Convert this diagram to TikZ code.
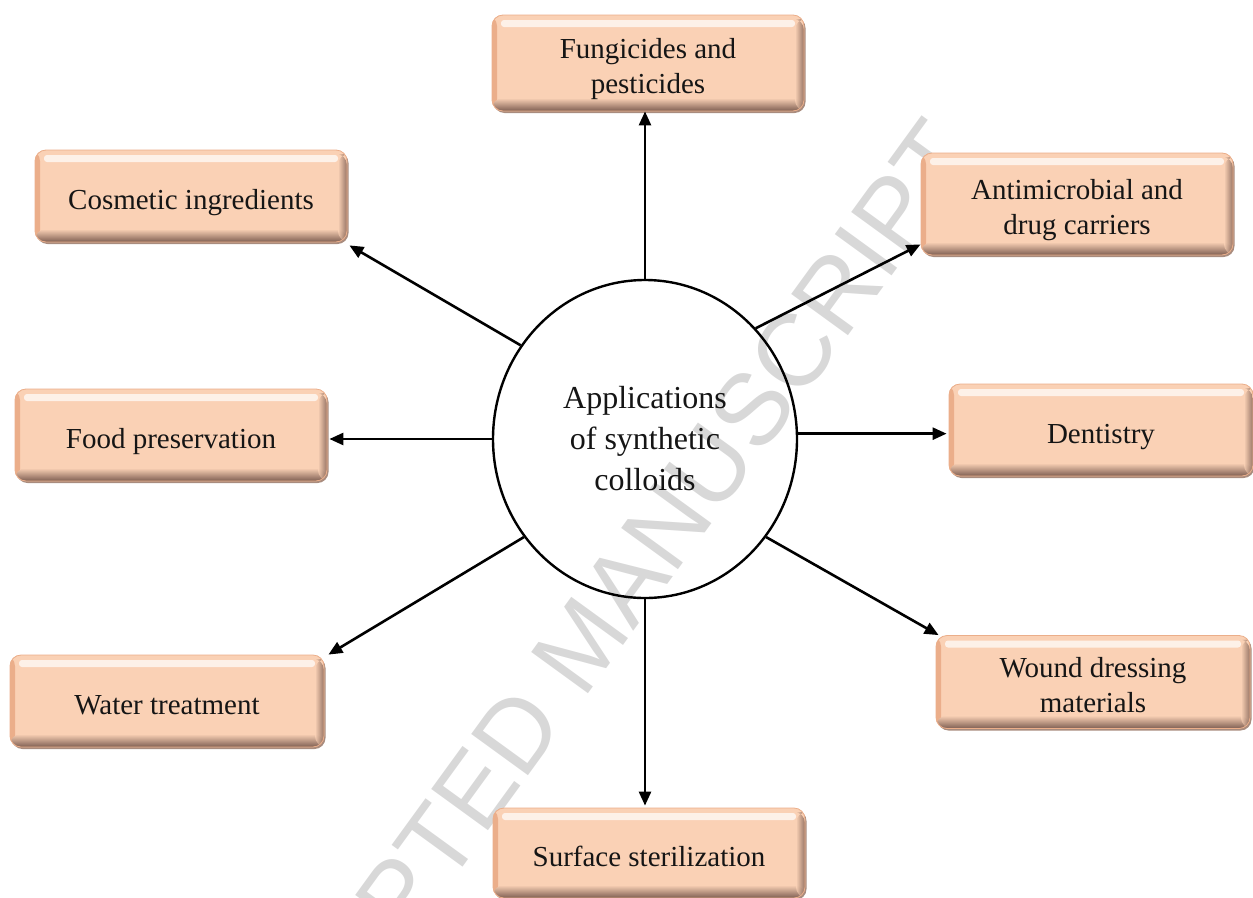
\documentclass[tikz,border=0pt]{standalone}
\usepackage{fontspec}
\setmainfont{Liberation Serif}
\newfontfamily\wmfont{Liberation Sans}
\usetikzlibrary{shapes.geometric, arrows.meta, shadows}
\definecolor{boxmid}{HTML}{FAD1B5}
\definecolor{boxedge}{HTML}{EBAE8A}
\definecolor{bevel}{HTML}{7E5E52}
\definecolor{boxshadow}{HTML}{A08070}
\definecolor{txt}{HTML}{151515}
\definecolor{wmgray}{HTML}{D8D8D8}
\newcommand{\bt}[1]{\raisebox{-6pt}[\height][\depth]{\begin{tabular}{@{}c@{}}#1\end{tabular}}}
\tikzset{
  appbox/.style={rectangle, rounded corners=11pt, inner sep=0pt,
    font=\fontsize{29}{35}\selectfont, text=txt,
    fill=boxmid, draw=boxedge, line width=0.8pt,
    drop shadow={shadow xshift=1.5pt, shadow yshift=-2pt, fill=boxshadow, opacity=0.9},
    path picture={
      \shade[left color=boxedge, right color=boxmid]
        (path picture bounding box.south west) rectangle
        ([xshift=5pt]path picture bounding box.north west);
      \shade[top color=boxmid, bottom color=bevel]
        ([yshift=13pt]path picture bounding box.south west) rectangle
        (path picture bounding box.south east);
      \shade[left color=boxmid, right color=bevel, opacity=0.8]
        ([xshift=-9pt]path picture bounding box.south east) rectangle
        ([yshift=-4pt]path picture bounding box.north east);
      \fill[white, opacity=0.7, rounded corners=3pt]
        ([xshift=9pt,yshift=-5pt]path picture bounding box.north west) rectangle
        ([xshift=-9pt,yshift=-12pt]path picture bounding box.north east);}},
  hub/.style={ellipse, draw=black, line width=2.4pt, inner sep=0pt,
    minimum width=304pt, minimum height=318pt, align=center,
    font=\fontsize{32}{41}\selectfont, text=txt},
  arr/.style={line width=2.6pt, draw=black, -{Triangle[length=14pt,width=12pt]}},
  watermark/.style={rotate=54, text=wmgray, inner sep=0pt,
    font=\wmfont\fontsize{102}{102}\selectfont}
}
\begin{document}
\begin{tikzpicture}[x=1pt,y=-1pt]
\useasboundingbox (0,0) rectangle (1253,897);
\begin{scope}
  \clip (0,0) rectangle (1253,897);
  \node[watermark] (wm) at (582,643) {ACCEPTED MANUSCRIPT};
\end{scope}

\node[hub] (c) at (645,439) {Applications\\of synthetic\\colloids};

\node[appbox, minimum width=312pt, minimum height=96pt] (fung) at (648,63) {\bt{Fungicides and\\pesticides}};
\node[appbox, minimum width=312pt, minimum height=92pt] (cosm) at (191,196) {\bt{Cosmetic ingredients}};
\node[appbox, minimum width=312pt, minimum height=102pt] (anti) at (1077,204) {\bt{Antimicrobial and\\drug carriers}};
\node[appbox, minimum width=312pt, minimum height=92pt] (food) at (171,435) {\bt{Food preservation}};
\node[appbox, minimum width=304pt, minimum height=92pt] (dent) at (1101,430) {\bt{Dentistry}};
\node[appbox, minimum width=314pt, minimum height=92pt] (water) at (167,701) {\bt{Water treatment}};
\node[appbox, minimum width=314pt, minimum height=93pt] (wound) at (1093,682) {\bt{Wound dressing\\materials}};
\node[appbox, minimum width=312pt, minimum height=90pt] (surf) at (649,853) {\bt{Surface sterilization}};

\draw[arr] (c.north) -- (c.north |- fung.south);
\draw[arr] (c.143) -- ([shift={(2pt,-3pt)}]cosm.south east);
\draw[arr] (c.45) -- ([yshift=11pt]anti.south west);
\draw[arr] (c.west) -- ([xshift=2pt]c.west -| food.east);
\draw[arr] (c.2) -- ([xshift=-2pt]c.2 -| dent.west);
\draw[arr] (c.219) -- ([xshift=4pt]water.north east);
\draw[arr] (c.321) -- ([xshift=3pt]wound.north west);
\draw[arr] (c.south) -- ([yshift=2pt]c.south |- surf.north);
\end{tikzpicture}
\end{document}
